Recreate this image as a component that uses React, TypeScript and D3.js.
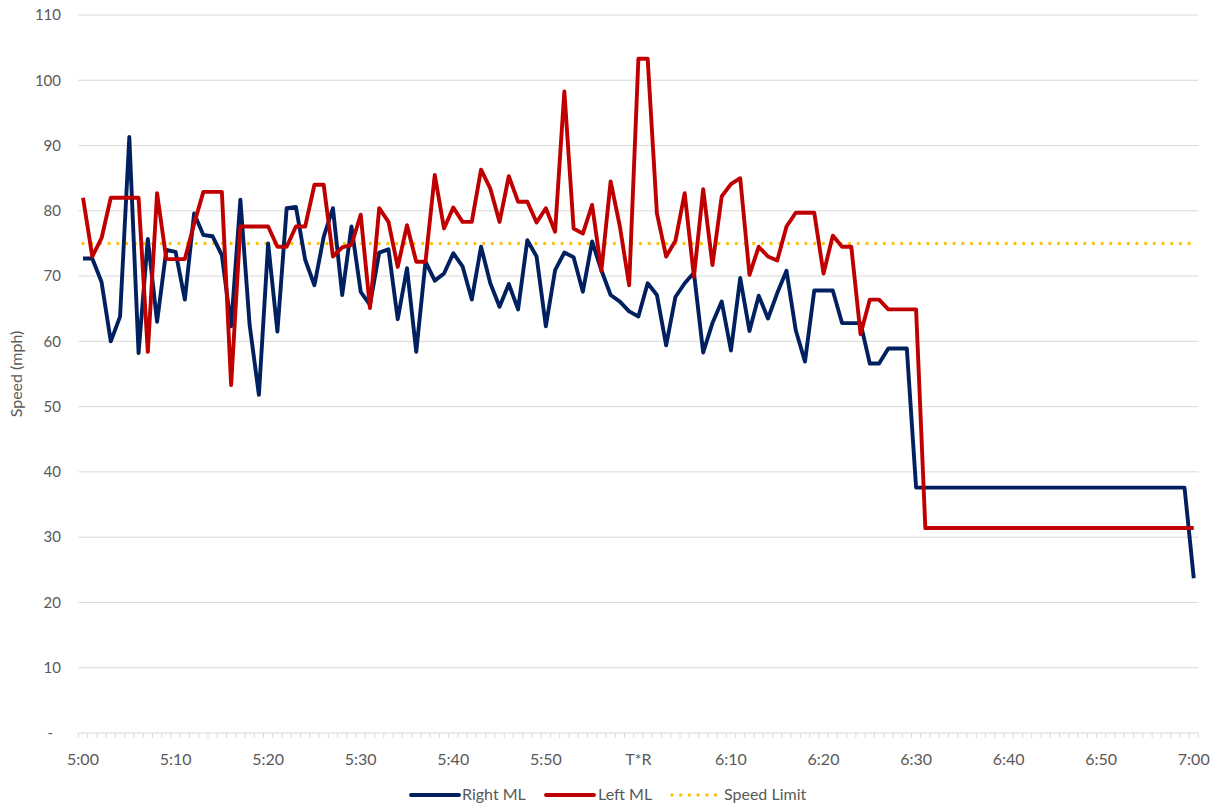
import React from "react";
import * as d3 from "d3";

// ---- Data ----
const minutes: number[] = d3.range(0, 121);
const categories: string[] = minutes.map((m) => {
  const h = 5 + Math.floor(m / 60);
  const mm = m % 60;
  return `${h}:${mm < 10 ? "0" + mm : mm}`;
});

const rightML: number[] = [
  72.7, 72.7, 69.1, 60.0, 63.8, 91.3, 58.2, 75.7, 63.0, 74.0,
  73.7, 66.4, 79.6, 76.3, 76.1, 73.2, 62.3, 81.7, 62.5, 51.8,
  75.0, 61.5, 80.4, 80.6, 72.5, 68.6, 76.0, 80.4, 67.1, 77.6,
  67.6, 65.6, 73.6, 74.1, 63.4, 71.2, 58.4, 72.2, 69.3, 70.4,
  73.5, 71.5, 66.4, 74.5, 68.9, 65.3, 68.8, 64.9, 75.5, 73.0,
  62.3, 70.9, 73.6, 72.9, 67.6, 75.3, 70.9, 67.1, 66.1, 64.6,
  63.8, 68.9, 67.1, 59.4, 66.8, 68.9, 70.5, 58.3, 62.8, 66.1,
  58.6, 69.7, 61.6, 67.0, 63.5, 67.4, 70.8, 61.7, 56.9, 67.8,
  67.8, 67.8, 62.8, 62.8, 62.8, 56.6, 56.6, 58.9, 58.9, 58.9,
  37.6, 37.6, 37.6, 37.6, 37.6, 37.6, 37.6, 37.6, 37.6, 37.6,
  37.6, 37.6, 37.6, 37.6, 37.6, 37.6, 37.6, 37.6, 37.6, 37.6,
  37.6, 37.6, 37.6, 37.6, 37.6, 37.6, 37.6, 37.6, 37.6, 37.6,
  23.7,
];

const leftML: number[] = [
  82.0, 73.0, 75.8, 82.0, 82.0, 82.0, 82.0, 58.4, 82.7, 72.6,
  72.6, 72.6, 78.0, 82.9, 82.9, 82.9, 53.3, 77.6, 77.6, 77.6,
  77.6, 74.5, 74.5, 77.6, 77.6, 84.0, 84.0, 73.0, 74.4, 74.8,
  79.4, 65.1, 80.4, 78.3, 71.4, 77.8, 72.2, 72.2, 85.5, 77.3,
  80.5, 78.3, 78.3, 86.3, 83.4, 78.3, 85.3, 81.4, 81.4, 78.2,
  80.4, 76.8, 98.3, 77.3, 76.5, 80.9, 70.8, 84.5, 77.6, 68.6,
  103.3, 103.3, 79.6, 73.0, 75.4, 82.7, 69.9, 83.3, 71.7, 82.2,
  84.1, 85.0, 70.2, 74.5, 73.0, 72.4, 77.6, 79.7, 79.7, 79.7,
  70.4, 76.2, 74.5, 74.5, 61.1, 66.4, 66.4, 64.9, 64.9, 64.9,
  64.9, 31.4, 31.4, 31.4, 31.4, 31.4, 31.4, 31.4, 31.4, 31.4,
  31.4, 31.4, 31.4, 31.4, 31.4, 31.4, 31.4, 31.4, 31.4, 31.4,
  31.4, 31.4, 31.4, 31.4, 31.4, 31.4, 31.4, 31.4, 31.4, 31.4,
  31.4,
];

const speedLimit = 75;

const yTicks: number[] = [0, 10, 20, 30, 40, 50, 60, 70, 80, 90, 100, 110];
const yTickLabels: string[] = ["-", "10", "20", "30", "40", "50", "60", "70", "80", "90", "100", "110"];

const xTickIndex: number[] = [0, 10, 20, 30, 40, 50, 60, 70, 80, 90, 100, 110, 120];
const xTickLabels: string[] = ["5:00", "5:10", "5:20", "5:30", "5:40", "5:50", "T*R", "6:10", "6:20", "6:30", "6:40", "6:50", "7:00"];

const seriesNames = ["Right ML", "Left ML", "Speed Limit"];

// ---- Styles ----
const W = 1225;
const H = 808;
const FONT = "Lato, 'Open Sans', 'Liberation Sans', sans-serif";
const TEXT = "#595959";
const GRID = "#D9D9D9";
const BLUE = "#002060";
const RED = "#C00000";
const GOLD = "#FFC000";

export default function App() {
  const left = 78.4;
  const right = 1198.4;
  const top = 15;
  const bottom = 733;

  const x = d3.scalePoint<number>().domain(minutes).range([left, right]).padding(0.5);
  const step = x.step();
  const y = d3.scaleLinear().domain([0, 110]).range([bottom, top]);

  const line = d3
    .line<number>()
    .x((_, i) => x(minutes[i]) as number)
    .y((d) => y(d));

  const limitData = minutes.map(() => speedLimit);

  const boundaries = d3.range(0, minutes.length + 1).map((k) => left + k * step);

  return (
    <svg
      width={W}
      height={H}
      style={{ position: "absolute", left: 0, top: 0, background: "#fff" }}
      fontFamily={FONT}
    >
      <rect width={W} height={H} fill="#fff" />
      {/* gridlines */}
      {yTicks.map((t) =>
        t === 0 ? null : (
          <line key={t} x1={left} x2={right} y1={y(t)} y2={y(t)} stroke={GRID} strokeWidth={1} />
        )
      )}
      {/* x axis line and ticks */}
      <line x1={left} x2={right} y1={bottom} y2={bottom} stroke={GRID} strokeWidth={1} />
      {boundaries.map((bx, k) => (
        <line key={k} x1={bx} x2={bx} y1={bottom} y2={bottom + 5} stroke={GRID} strokeWidth={1} />
      ))}
      {/* y labels */}
      {yTicks.map((t, i) => (
        <text
          key={t}
          x={t === 0 ? 53 : 61}
          y={y(t)}
          dy="0.35em"
          textAnchor="end"
          fontSize={15}
          fill={TEXT}
        >
          {yTickLabels[i]}
        </text>
      ))}
      {/* x labels */}
      {xTickIndex.map((idx, i) => (
        <text key={idx} x={x(minutes[idx])} y={765} textAnchor="middle" fontSize={16} fill={TEXT}>
          {xTickLabels[i]}
        </text>
      ))}
      {/* y title */}
      <text
        transform={`translate(22, ${(top + bottom) / 2}) rotate(-90)`}
        textAnchor="middle"
        fontSize={16}
        fill={TEXT}
      >
        Speed (mph)
      </text>

      {/* series */}
      <path d={line(limitData) || ""} fill="none" stroke={GOLD} strokeWidth={3.4} strokeLinecap="round" strokeDasharray="0.01 8.7" />
      <path d={line(rightML) || ""} fill="none" stroke={BLUE} strokeWidth={3.9} strokeLinejoin="round" />
      <path d={line(leftML) || ""} fill="none" stroke={RED} strokeWidth={3.9} strokeLinejoin="round" />

      {/* legend */}
      <g fontSize={16} fill={TEXT}>
        <line x1={411} x2={459} y1={795} y2={795} stroke={BLUE} strokeWidth={3.9} strokeLinecap="round" />
        <text x={462} y={800}>{seriesNames[0]}</text>
        <line x1={546} x2={594} y1={795} y2={795} stroke={RED} strokeWidth={3.9} strokeLinecap="round" />
        <text x={598} y={800}>{seriesNames[1]}</text>
        <line x1={672} x2={717} y1={795} y2={795} stroke={GOLD} strokeWidth={3.4} strokeLinecap="round" strokeDasharray="0.01 8.7" />
        <text x={724} y={800}>{seriesNames[2]}</text>
      </g>
    </svg>
  );
}
